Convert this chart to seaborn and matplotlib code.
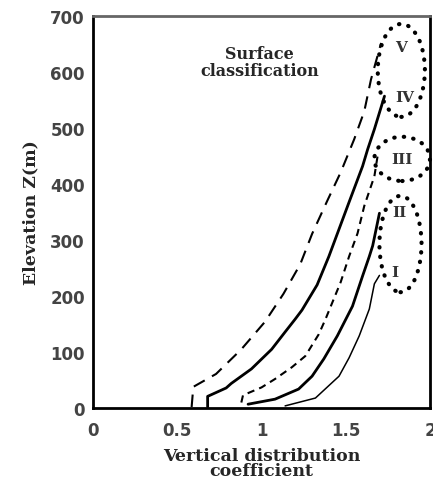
import pandas as pd
import matplotlib.pyplot as plt
import seaborn as sns
from matplotlib.patches import Ellipse
from matplotlib.ticker import MultipleLocator

# curves: vertical distribution coefficient vs elevation
v_x = [0.585, 0.595, 0.73, 0.88, 1.02, 1.13, 1.23, 1.30, 1.39, 1.47, 1.55, 1.61, 1.65, 1.71]
v_z = [2, 38, 61, 105, 154, 204, 257, 311, 370, 421, 480, 530, 587, 652]

iv_x = [0.68, 0.68, 0.79, 0.82, 0.94, 1.06, 1.14, 1.20, 1.24, 1.33, 1.40, 1.52, 1.60, 1.63, 1.67, 1.73]
iv_z = [2, 21, 36, 44, 70, 105, 136, 159, 175, 220, 271, 368, 432, 462, 498, 557]

iii_x = [0.88, 0.89, 1.00, 1.08, 1.18, 1.26, 1.34, 1.38, 1.47, 1.52, 1.57, 1.61, 1.67, 1.69]
iii_z = [10, 23, 37, 52, 73, 93, 132, 159, 225, 271, 312, 361, 414, 452]

ii_x = [0.92, 1.08, 1.22, 1.30, 1.37, 1.45, 1.54, 1.60, 1.64, 1.66, 1.70]
ii_z = [7, 16, 34, 57, 88, 129, 182, 236, 271, 290, 348]

i_x = [1.14, 1.32, 1.46, 1.52, 1.58, 1.64, 1.67, 1.70]
i_z = [4, 18, 57, 90, 129, 177, 222, 237]

# dotted ellipses around the class labels: centre x, centre z, width, height
ell_x = [1.83, 1.835, 1.825]
ell_z = [603, 445, 293]
ell_w = [0.28, 0.33, 0.25]
ell_h = [166, 79, 172]

class_labels = ['V', 'IV', 'III', 'II', 'I']
label_x = [1.83, 1.85, 1.835, 1.82, 1.79]
label_z = [645, 555, 445, 350, 243]

sns.set_style("white")
plt.rcParams['font.family'] = ['DejaVu Serif']

fig = plt.figure(figsize=(4.33, 5.02), dpi=100)
ax = fig.add_axes([0.215, 0.185, 0.778, 0.781])

curves = [
    (v_x, v_z, (0, (6, 4)), 1.5),
    (iv_x, iv_z, '-', 2.0),
    (iii_x, iii_z, (0, (3.5, 2.5)), 1.5),
    (ii_x, ii_z, '-', 2.0),
    (i_x, i_z, '-', 1.1),
]
for xs, zs, ls, lw in curves:
    df = pd.DataFrame({'coef': xs, 'z': zs})
    sns.lineplot(data=df, x='coef', y='z', sort=False, estimator=None,
                 color='black', linestyle=ls, linewidth=lw, ax=ax)

for cx, cz, w, h in zip(ell_x, ell_z, ell_w, ell_h):
    ax.add_patch(Ellipse((cx, cz), w, h, fill=False, edgecolor='black',
                         linestyle=(0, (0.1, 2.2)), linewidth=3,
                         capstyle='round', clip_on=False))

for lab, lx, lz in zip(class_labels, label_x, label_z):
    ax.text(lx, lz, lab, ha='center', va='center', fontsize=11,
            fontweight='bold', color='#333333', family='DejaVu Serif')

ax.text(0.99, 618, 'Surface\nclassification', ha='center', va='center',
        fontsize=11.5, fontweight='bold', linespacing=1.05)

ax.set_xlim(0, 2)
ax.set_ylim(0, 700)
ax.xaxis.set_major_locator(MultipleLocator(0.5))
ax.xaxis.set_minor_locator(MultipleLocator(0.1))
ax.yaxis.set_major_locator(MultipleLocator(100))
ax.yaxis.set_minor_locator(MultipleLocator(50))
ax.set_xticks([0, 0.5, 1, 1.5, 2], ['0', '0.5', '1', '1.5', '2'])

ax.tick_params(axis='both', which='both', direction='in', color='black', width=1.5)
ax.tick_params(axis='x', which='major', length=6, pad=9)
ax.tick_params(axis='x', which='minor', length=6)
ax.tick_params(axis='y', which='major', length=9, pad=6)
ax.tick_params(axis='y', which='minor', length=9)
for lab in ax.get_xticklabels() + ax.get_yticklabels():
    lab.set_family('DejaVu Sans')
    lab.set_fontweight('bold')
    lab.set_fontsize(12)
    lab.set_color('#444444')

for side in ['left', 'bottom', 'right']:
    ax.spines[side].set_color('black')
    ax.spines[side].set_linewidth(2)
ax.spines['top'].set_color('#666666')
ax.spines['top'].set_linewidth(2)

ax.set_xlabel('Vertical distribution\ncoefficient', fontsize=12.5,
              fontweight='bold', linespacing=0.85, labelpad=6)
ax.set_ylabel('Elevation Z(m)', fontsize=12.5, fontweight='bold', labelpad=8)

fig.savefig('out.png', dpi=100)
